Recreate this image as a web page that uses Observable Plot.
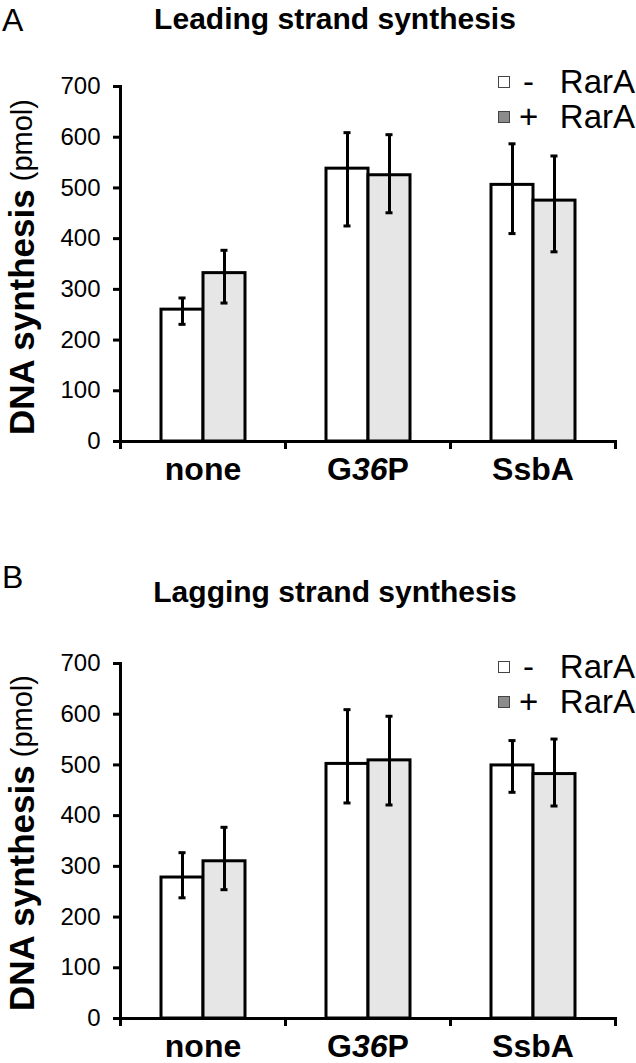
<!DOCTYPE html>
<html>
<head>
<meta charset="utf-8">
<script src="https://cdn.jsdelivr.net/npm/d3@7"></script>
<script src="https://cdn.jsdelivr.net/npm/@observablehq/plot@0.6"></script>
<style>
  html, body { margin: 0; padding: 0; background: #fff; }
  #fig { position: relative; width: 636px; height: 1063px; font-family: "Liberation Sans", Arial, Helvetica, sans-serif; color: #000; overflow: hidden; }
  .panel { position: absolute; left: 0; width: 636px; }
  .panel svg { position: absolute; left: 0; top: 0; }
  .abs { position: absolute; white-space: nowrap; line-height: 1.25; }
  .letter { font-size: 32px; font-weight: normal; }
  .title { font-size: 30px; font-weight: bold; transform: translateX(-50%); }
  .ylab { writing-mode: vertical-rl; transform: translate(-50%, -50%) rotate(180deg); line-height: 1; }
  .sw { position: absolute; width: 10px; height: 10px; border: 1px solid #444; }
  .leg { font-size: 33px; }
</style>
</head>
<body>
<div id="fig"></div>
<script>
// ---- data ----
const categories = ["none", "G36P", "SsbA"];
const conditions = ["-", "+"];
const yTicks = [0, 100, 200, 300, 400, 500, 600, 700];

// Panel A: leading strand synthesis (pmol)
const leadMinus   = [260, 538, 506];
const leadMinusLo = [231, 425, 410];
const leadMinusHi = [283, 609, 587];
const leadPlus    = [332, 525, 475];
const leadPlusLo  = [273, 451, 374];
const leadPlusHi  = [377, 605, 563];

// Panel B: lagging strand synthesis (pmol)
const lagMinus   = [278, 502, 499];
const lagMinusLo = [238, 425, 446];
const lagMinusHi = [327, 609, 548];
const lagPlus    = [310, 509, 482];
const lagPlusLo  = [254, 421, 419];
const lagPlusHi  = [377, 596, 551];

const legendLabels = ["RarA", "RarA"];

function table(minus, minusLo, minusHi, plus, plusLo, plusHi) {
  const rows = [];
  categories.forEach((c, i) => {
    rows.push({cat: c, cond: "-", value: minus[i], lo: minusLo[i], hi: minusHi[i]});
    rows.push({cat: c, cond: "+", value: plus[i], lo: plusLo[i], hi: plusHi[i]});
  });
  return rows;
}

const fills = {"-": "#ffffff", "+": "#e6e6e6"};

function chart(data, opts) {
  const W = 636, mL = 120, mR = 21;
  const facetW = (W - mL - mR) / categories.length;
  const step = facetW / (2 + 2 * 0.92);
  const capInset = (step - 8) / 2;
  const plotH = opts.height - opts.marginTop - opts.marginBottom;
  const p = Plot.plot({
    width: W,
    height: opts.height,
    marginLeft: mL,
    marginRight: mR,
    marginTop: opts.marginTop,
    marginBottom: opts.marginBottom,
    style: {fontFamily: '"Liberation Sans", Arial, Helvetica, sans-serif', background: "transparent", color: "#000", overflow: "visible"},
    fx: {domain: categories, padding: 0, axis: null, label: null},
    x: {domain: conditions, paddingInner: 0, paddingOuter: 0.92, axis: null},
    y: {domain: [0, 700], axis: null},
    marks: [
      Plot.barY(data, {fx: "cat", x: "cond", y: "value", fill: d => fills[d.cond], stroke: "#000", strokeWidth: 3}),
      Plot.ruleX(data, {fx: "cat", x: "cond", y1: "lo", y2: "hi", stroke: "#000", strokeWidth: 3}),
      Plot.tickY(data, {fx: "cat", x: "cond", y: "lo", stroke: "#000", strokeWidth: 3, insetLeft: capInset, insetRight: capInset}),
      Plot.tickY(data, {fx: "cat", x: "cond", y: "hi", stroke: "#000", strokeWidth: 3, insetLeft: capInset, insetRight: capInset}),
      Plot.ruleY([0], {stroke: "#000", strokeWidth: 3}),
      // y axis line
      Plot.frame({anchor: "left", facetAnchor: "left", stroke: "#000", strokeWidth: 3, insetBottom: -6}),
      // category boundary ticks
      Plot.frame({anchor: "left", stroke: "#000", strokeWidth: 3, insetTop: plotH, insetBottom: -6}),
      Plot.frame({anchor: "right", facetAnchor: "right", stroke: "#000", strokeWidth: 3, insetTop: plotH, insetBottom: -6}),
      Plot.axisY({ticks: yTicks, tickSize: 7, tickPadding: 13, fontSize: 24, strokeWidth: 3, facetAnchor: "left", label: null, tickFormat: d => String(d)}),
      Plot.axisFx({anchor: "bottom", tickSize: 0, tickPadding: 16, fontSize: 32, fontWeight: "bold", label: null})
    ]
  });
  // italic digits in G36P
  d3.select(p).selectAll("text").filter(function() { return this.textContent === "G36P"; })
    .each(function() {
      const t = d3.select(this);
      t.text(null);
      t.append("tspan").text("G");
      t.append("tspan").attr("font-style", "italic").text("36");
      t.append("tspan").text("P");
    });
  return p;
}

function panel(top, height, letter, title, data, o) {
  const fig = document.getElementById("fig");
  const div = document.createElement("div");
  div.className = "panel";
  div.style.top = top + "px";
  div.style.height = height + "px";
  fig.appendChild(div);
  div.appendChild(chart(data, {height, marginTop: o.marginTop, marginBottom: o.marginBottom}));

  const L = document.createElement("div");
  L.className = "abs letter"; L.textContent = letter;
  L.style.left = "2px"; L.style.top = o.letterTop + "px";
  div.appendChild(L);

  const T = document.createElement("div");
  T.className = "abs title"; T.textContent = title;
  T.style.left = "335px"; T.style.top = o.titleTop + "px";
  div.appendChild(T);

  const Y = document.createElement("div");
  Y.className = "abs ylab";
  Y.innerHTML = '<span style="font-weight:bold;font-size:35px">DNA synthesis</span><span style="font-size:29px"> (pmol)</span>';
  Y.style.left = "21px"; Y.style.top = o.ylabCenter + "px";
  div.appendChild(Y);

  // legend
  const swFill = ["#ffffff", "#8c8c8c"];
  conditions.forEach((c, i) => {
    const rowTop = o.legendTop + i * 35;
    const s = document.createElement("div");
    s.className = "sw"; s.style.background = swFill[i];
    s.style.left = "498px"; s.style.top = (rowTop + 15) + "px";
    div.appendChild(s);
    const sg = document.createElement("div");
    sg.className = "abs leg"; sg.textContent = c;
    sg.style.left = (c === "-" ? 523 : 519) + "px"; sg.style.top = rowTop + "px";
    div.appendChild(sg);
    const tx = document.createElement("div");
    tx.className = "abs leg"; tx.textContent = legendLabels[i];
    tx.style.right = "1px"; tx.style.top = rowTop + "px";
    div.appendChild(tx);
  });
}

panel(0, 531, "A", "Leading strand synthesis",
  table(leadMinus, leadMinusLo, leadMinusHi, leadPlus, leadPlusLo, leadPlusHi),
  {marginTop: 86, marginBottom: 90, letterTop: 0, titleTop: 0, ylabCenter: 267, legendTop: 61});

panel(531, 532, "B", "Lagging strand synthesis",
  table(lagMinus, lagMinusLo, lagMinusHi, lagPlus, lagPlusLo, lagPlusHi),
  {marginTop: 132, marginBottom: 45, letterTop: 26, titleTop: 42, ylabCenter: 312, legendTop: 115});
</script>
</body>
</html>
